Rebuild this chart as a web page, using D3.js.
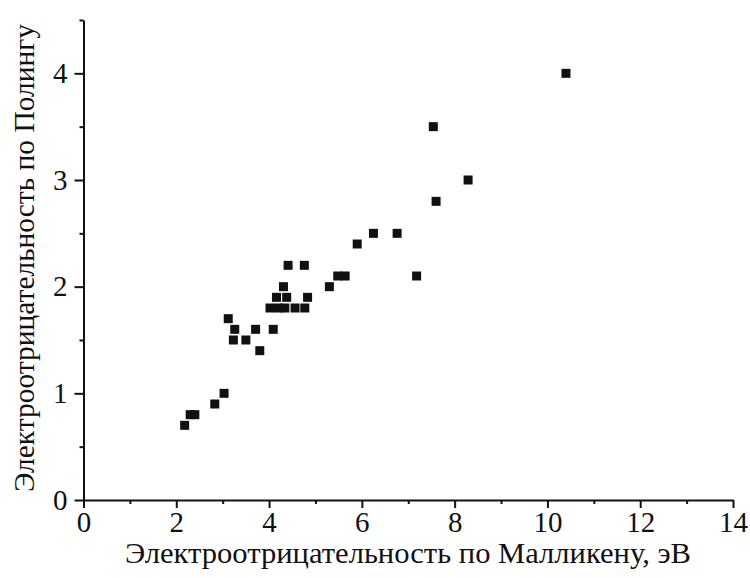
<!DOCTYPE html>
<html>
<head>
<meta charset="utf-8">
<script src="https://cdnjs.cloudflare.com/ajax/libs/d3/7.8.5/d3.min.js"></script>
<style>
  body { margin: 0; background: #fff; }
  svg text { font-family: "Liberation Serif", "Times New Roman", Times, serif; fill: #111; }
</style>
</head>
<body>
<div id="chart"></div>
<script>
var width = 750,
    height = 578,
    margin = { top: 20, right: 17, bottom: 78, left: 83.5 },
    innerWidth = width - margin.left - margin.right,
    innerHeight = height - margin.top - margin.bottom;

var serif = "'Liberation Serif', 'Times New Roman', Times, serif";

// Mulliken electronegativity (eV) and Pauling electronegativity
var mulliken = [2.18, 2.30, 2.40, 2.83, 3.03, 3.12, 3.26, 3.23, 3.50, 3.71, 3.80, 4.09,
    4.02, 4.20, 4.34, 4.56, 4.77, 4.16, 4.38, 4.83, 4.31, 4.41, 4.76,
    5.30, 5.48, 5.64, 5.90, 6.25, 6.76, 7.18, 7.60, 7.54, 8.29, 10.40];
var pauling = [0.7, 0.8, 0.8, 0.9, 1.0, 1.7, 1.6, 1.5, 1.5, 1.6, 1.4, 1.6,
    1.8, 1.8, 1.8, 1.8, 1.8, 1.9, 1.9, 1.9, 2.0, 2.2, 2.2,
    2.0, 2.1, 2.1, 2.4, 2.5, 2.5, 2.1, 2.8, 3.5, 3.0, 4.0];

var xTicks = [0, 2, 4, 6, 8, 10, 12, 14],
    xMinor = [1, 3, 5, 7, 9, 11, 13],
    yTicks = [0, 1, 2, 3, 4],
    yMinor = [0.5, 1.5, 2.5, 3.5, 4.5];

var xTitle = "Электроотрицательность по Малликену, эВ",
    yTitle = "Электроотрицательность по Полингу";

var svg = d3.select("#chart")
    .append("svg")
    .attr("width", width)
    .attr("height", height);

var g = svg.append("g")
    .attr("transform", `translate(${margin.left}, ${margin.top})`);

var x = d3.scaleLinear().domain([0, 14]).range([0, innerWidth]);
var y = d3.scaleLinear().domain([0, 4.5]).range([innerHeight, 0]);

// minor ticks
g.append("g")
    .attr("class", "axis")
    .attr("transform", `translate(0, ${innerHeight})`)
    .call(d3.axisBottom(x).tickValues(xMinor).tickSize(4).tickFormat(""))
    .call(a => a.select(".domain").remove());

g.append("g")
    .attr("class", "axis")
    .call(d3.axisLeft(y).tickValues(yMinor).tickSize(4).tickFormat(""))
    .call(a => a.select(".domain").remove());

// major ticks
g.append("g")
    .attr("class", "axis")
    .attr("transform", `translate(0, ${innerHeight})`)
    .call(d3.axisBottom(x).tickValues(xTicks).tickFormat(d3.format("d"))
        .tickSize(8).tickSizeOuter(0).tickPadding(3));

g.append("g")
    .attr("class", "axis")
    .call(d3.axisLeft(y).tickValues(yTicks).tickFormat(d3.format("d"))
        .tickSize(9).tickSizeOuter(0).tickPadding(7));

g.selectAll(".axis")
    .attr("font-family", serif)
    .attr("font-size", 29);

g.selectAll(".axis path, .axis line")
    .attr("stroke", "#111")
    .attr("stroke-width", 2);

g.selectAll(".axis text")
    .attr("fill", "#111");

// points
var size = 9;
g.selectAll("rect.pt")
    .data(mulliken.map((m, i) => ({ m: m, p: pauling[i] })))
    .enter()
    .append("rect")
    .attr("class", "pt")
    .attr("x", d => x(d.m) - size / 2)
    .attr("y", d => y(d.p) - size / 2)
    .attr("width", size)
    .attr("height", size)
    .attr("fill", "#111");

// axis titles
svg.append("text")
    .attr("x", 408)
    .attr("y", 563)
    .attr("font-family", serif)
    .style("text-anchor", "middle")
    .style("font-size", "30px")
    .attr("textLength", 566)
    .attr("lengthAdjust", "spacingAndGlyphs")
    .text(xTitle);

svg.append("text")
    .attr("transform", "translate(34, 258) rotate(-90)")
    .attr("font-family", serif)
    .style("text-anchor", "middle")
    .style("font-size", "30px")
    .attr("textLength", 468)
    .attr("lengthAdjust", "spacingAndGlyphs")
    .text(yTitle);
</script>
</body>
</html>
